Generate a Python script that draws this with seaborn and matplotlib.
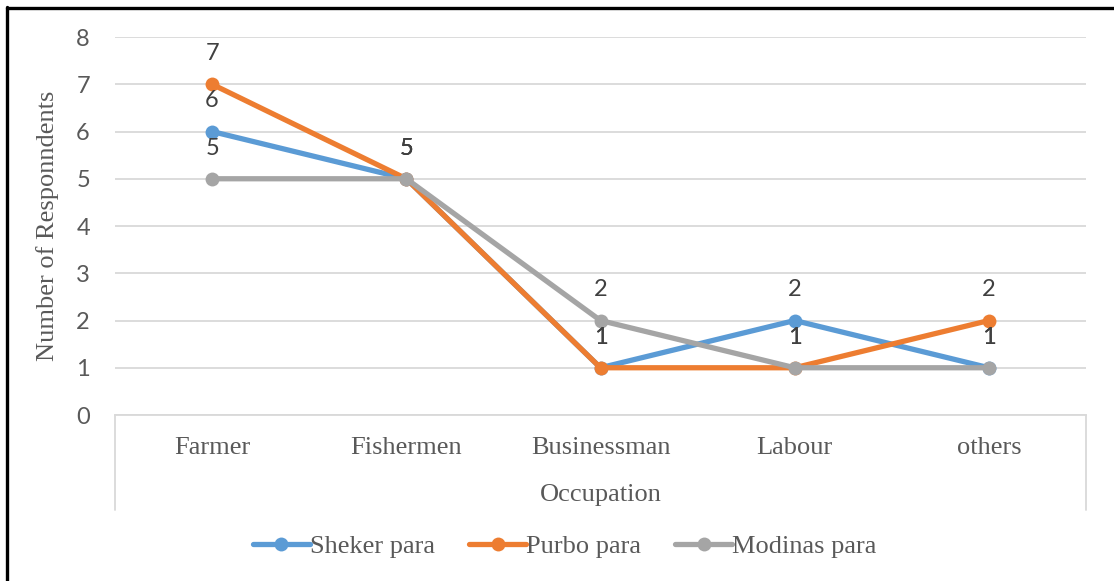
import pandas as pd
import numpy as np
import matplotlib
matplotlib.use("Agg")
import matplotlib.pyplot as plt
from matplotlib.lines import Line2D
import seaborn as sns

# data
occupations = ["Farmer", "Fishermen", "Businessman", "Labour", "others"]
sheker_para = [6, 5, 1, 2, 1]
purbo_para = [7, 5, 1, 1, 2]
modinas_para = [5, 5, 2, 1, 1]
series_names = ["Sheker para", "Purbo para", "Modinas para"]
colors = ["#5B9BD5", "#ED7D31", "#A5A5A5"]
y_ticks = [0, 1, 2, 3, 4, 5, 6, 7, 8]

df = pd.DataFrame({
    "Occupation": occupations * 3,
    "Respondents": sheker_para + purbo_para + modinas_para,
    "Area": [s for s in series_names for _ in occupations],
})

sns.set_theme(style="white")
text_col = "#595959"
serif = ["Liberation Serif", "DejaVu Serif"]
sans = ["Lato", "DejaVu Sans"]

fig = plt.figure(figsize=(11.14, 5.81), dpi=100)
ax = fig.add_axes([0.1032, 0.2857, 0.8717, 0.6506])

sns.lineplot(data=df, x="Occupation", y="Respondents", hue="Area",
             hue_order=series_names, palette=colors, marker="o",
             markersize=10, markeredgewidth=0, linewidth=3.8,
             sort=False, legend=False, ax=ax)

# data labels above each point
for name, vals in zip(series_names, [sheker_para, purbo_para, modinas_para]):
    for i, v in enumerate(vals):
        ax.annotate(str(v), (i, v), xytext=(0, 22), textcoords="offset points",
                    ha="center", va="center", fontsize=17, color="#404040",
                    family=sans)

ax.set_xlim(-0.5, 4.5)
ax.set_ylim(0, 8)
ax.set_yticks(y_ticks)
ax.yaxis.grid(True, color="#D9D9D9", linewidth=1.3)
ax.set_axisbelow(True)
for s in ["left", "right", "top"]:
    ax.spines[s].set_visible(False)
ax.spines["bottom"].set_color("#D9D9D9")
ax.spines["bottom"].set_linewidth(1.3)
ax.tick_params(axis="y", length=0, pad=18, labelsize=17, labelcolor=text_col)
ax.tick_params(axis="x", length=0, pad=16, labelsize=19, labelcolor=text_col)
for lab in ax.get_yticklabels():
    lab.set_family(sans)
for lab in ax.get_xticklabels():
    lab.set_family(serif)

ax.set_xlabel("Occupation", fontsize=19, color=text_col, family=serif, labelpad=18)
ax.set_ylabel("Number of Responndents", fontsize=19, color=text_col, family=serif, labelpad=12)

# category axis box edges
fig.add_artist(Line2D([115 / 1114, 115 / 1114], [1 - 415 / 581, 1 - 510 / 581],
                      color="#D9D9D9", lw=1.3))
fig.add_artist(Line2D([1086 / 1114, 1086 / 1114], [1 - 415 / 581, 1 - 510 / 581],
                      color="#D9D9D9", lw=1.3))

# legend
handles = [Line2D([0], [0], color=c, lw=3.8, marker="o", markersize=10,
                  markeredgewidth=0) for c in colors]
leg = fig.legend(handles, series_names, loc="center", bbox_to_anchor=(0.507, 1 - 546 / 581),
                 ncol=3, frameon=False, handlelength=2.16, handletextpad=0.0,
                 columnspacing=1.3, prop={"family": serif, "size": 19})
for t in leg.get_texts():
    t.set_color(text_col)

# black frame on left and top
fig.add_artist(Line2D([7 / 1114, 7 / 1114], [0, 1 - 7 / 581], color="black", lw=2.4))
fig.add_artist(Line2D([7 / 1114, 1], [1 - 8 / 581, 1 - 8 / 581], color="black", lw=2.4))

plt.savefig("out.png", dpi=100)
